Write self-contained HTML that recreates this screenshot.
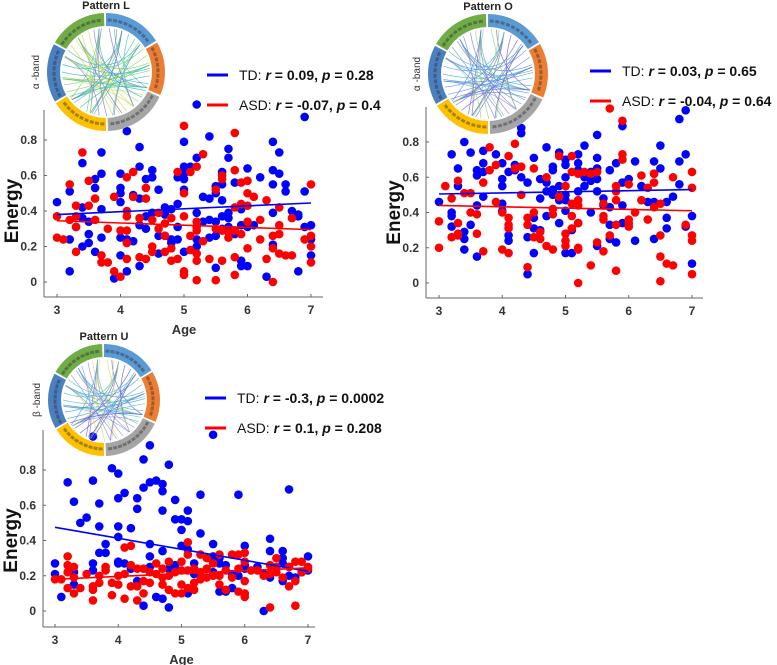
<!DOCTYPE html>
<html><head><meta charset="utf-8"><style>
body{margin:0;background:#fff}
svg{display:block;font-family:"Liberation Sans",sans-serif}
</style></head><body>
<svg id="fig" width="777" height="665" viewBox="0 0 777 665"></svg>
<script>
const ticksX=[3,4,5,6,7];
const ticksY=[0,0.2,0.4,0.6,0.8];
const tickLabelsY=["0","0.2","0.4","0.6","0.8"];
// Pattern L
const L_tdAge=[3.0,3.2,3.2,3.2,3.3,3.4,3.4,3.4,3.4,3.5,3.5,3.5,3.6,3.6,3.6,3.7,3.7,3.7,3.7,3.9,4.0,4.0,4.0,4.0,4.0,4.0,4.1,4.1,4.1,4.1,4.2,4.2,4.3,4.3,4.3,4.3,4.3,4.4,4.4,4.4,4.5,4.5,4.5,4.6,4.6,4.6,4.7,4.7,4.7,4.8,4.8,4.8,4.9,4.9,4.9,4.9,5.0,5.0,5.0,5.0,5.0,5.0,5.1,5.2,5.2,5.2,5.2,5.3,5.3,5.4,5.4,5.4,5.4,5.5,5.5,5.5,5.5,5.5,5.6,5.6,5.6,5.6,5.6,5.7,5.7,5.7,5.7,5.7,5.8,5.8,5.9,5.9,5.9,5.9,6.0,6.0,6.0,6.1,6.2,6.3,6.4,6.4,6.4,6.4,6.4,6.5,6.5,6.6,6.6,6.7,6.8,6.8,6.8,6.9,6.9,6.9,7.0,7.0,7.0,5.2];
const L_tdEnergy=[.45,.51,.06,.24,.31,.67,.42,.36,.20,.22,.34,.27,.58,.53,.17,.73,.61,.41,.25,.02,.61,.53,.50,.45,.25,.15,.85,.24,.22,.06,.49,.23,.76,.65,.47,.32,.09,.58,.37,.30,.63,.59,.39,.52,.16,.26,.42,.38,.26,.41,.24,.22,.59,.44,.31,.24,.79,.65,.61,.58,.52,.17,.65,.70,.39,.24,.20,.48,.34,.82,.47,.35,.25,.54,.50,.34,.26,.08,.62,.55,.46,.37,.30,.75,.70,.39,.36,.31,.56,.27,.41,.32,.12,.09,.64,.31,.09,.32,.59,.03,.79,.63,.55,.39,.21,.73,.61,.55,.51,.40,.38,.37,.06,.51,.31,.93,.32,.24,.15,1.0];
const L_asdAge=[3.0,3.0,3.1,3.2,3.2,3.3,3.3,3.3,3.3,3.4,3.5,3.5,3.6,3.6,3.7,3.7,3.8,3.8,3.9,3.9,4.0,4.0,4.1,4.1,4.1,4.1,4.1,4.1,4.2,4.2,4.3,4.3,4.4,4.4,4.4,4.5,4.5,4.5,4.6,4.6,4.7,4.7,4.7,4.8,4.8,4.8,4.9,4.9,5.0,5.0,5.0,5.0,5.0,5.1,5.1,5.1,5.2,5.2,5.2,5.2,5.2,5.2,5.2,5.3,5.3,5.4,5.5,5.5,5.5,5.6,5.6,5.6,5.6,5.7,5.7,5.8,5.8,5.8,5.8,5.8,5.8,5.9,5.9,5.9,6.0,6.0,6.0,6.0,6.0,6.1,6.2,6.2,6.3,6.3,6.4,6.4,6.4,6.5,6.5,6.5,6.5,6.6,6.7,6.7,6.9,7.0,7.0,7.0,7.0];
const L_asdEnergy=[.37,.25,.24,.55,.35,.43,.37,.31,.17,.73,.57,.43,.47,.35,.15,.11,.30,.11,.48,.06,.29,.03,.59,.40,.37,.29,.22,.13,.62,.48,.36,.14,.53,.47,.13,.35,.20,.17,.39,.30,.33,.26,.17,.36,.19,.12,.62,.13,.88,.50,.37,.06,.04,.62,.26,.18,.65,.34,.31,.29,.16,.12,.01,.72,.23,.13,.52,.30,.01,.60,.58,.29,.12,.25,.28,.84,.63,.42,.29,.14,.04,.56,.44,.27,.57,.50,.43,.34,.19,.48,.35,.24,.46,.13,.26,.19,.00,.42,.32,.27,.16,.15,.36,.15,.24,.55,.26,.20,.11];
const L_fitTD=[.38,.445], L_fitASD=[.345,.295];
// Pattern O
const O_tdAge=[3.0,3.2,3.2,3.2,3.2,3.3,3.3,3.4,3.4,3.4,3.4,3.5,3.5,3.6,3.6,3.6,3.6,3.7,3.7,3.7,3.7,3.9,4.0,4.0,4.0,4.0,4.0,4.1,4.1,4.1,4.2,4.2,4.3,4.3,4.3,4.4,4.4,4.4,4.5,4.5,4.5,4.5,4.6,4.6,4.6,4.7,4.7,4.7,4.7,4.8,4.8,4.8,4.8,4.9,4.9,4.9,4.9,5.0,5.0,5.0,5.0,5.0,5.0,5.0,5.1,5.1,5.2,5.2,5.2,5.2,5.2,5.3,5.3,5.3,5.4,5.4,5.4,5.5,5.5,5.5,5.5,5.5,5.5,5.6,5.6,5.7,5.7,5.7,5.7,5.8,5.8,5.9,5.9,5.9,5.9,6.0,6.1,6.1,6.2,6.3,6.4,6.4,6.4,6.4,6.5,6.5,6.6,6.6,6.6,6.7,6.8,6.8,6.8,6.9,6.9,6.9,7.0,7.0];
const O_tdEnergy=[.46,.73,.40,.38,.32,.65,.55,.80,.29,.25,.19,.74,.33,.64,.61,.44,.15,.75,.68,.63,.49,.73,.68,.59,.55,.45,.41,.63,.27,.24,.67,.64,.88,.85,.60,.57,.26,.05,.71,.37,.31,.17,.59,.48,.30,.77,.57,.52,.38,.66,.64,.53,.50,.74,.55,.47,.34,.70,.67,.60,.50,.47,.41,.17,.30,.17,.73,.68,.64,.52,.34,.78,.60,.55,.63,.58,.40,.84,.71,.65,.59,.52,.21,.48,.44,.64,.43,.33,.25,.68,.23,.89,.57,.44,.34,.59,.69,.24,.55,.46,.69,.62,.46,.25,.78,.65,.46,.37,.31,.49,.93,.69,.56,.98,.73,.32,.38,.11];
const O_asdAge=[3.0,3.0,3.1,3.2,3.2,3.3,3.3,3.3,3.3,3.4,3.5,3.5,3.6,3.6,3.7,3.7,3.8,3.8,3.9,3.9,4.0,4.0,4.1,4.1,4.1,4.1,4.1,4.2,4.2,4.3,4.3,4.4,4.4,4.4,4.5,4.5,4.5,4.6,4.6,4.7,4.7,4.8,4.8,4.8,4.9,4.9,5.0,5.0,5.0,5.0,5.1,5.1,5.1,5.1,5.1,5.2,5.2,5.2,5.2,5.2,5.2,5.2,5.3,5.4,5.4,5.5,5.5,5.6,5.6,5.6,5.6,5.7,5.7,5.8,5.8,5.8,5.8,5.8,5.9,5.9,5.9,6.0,6.0,6.0,6.0,6.1,6.2,6.2,6.3,6.3,6.4,6.4,6.4,6.5,6.5,6.5,6.5,6.6,6.7,6.7,6.9,7.0,7.0,7.0,7.0,7.0];
const O_asdEnergy=[.35,.20,.55,.48,.26,.58,.34,.28,.27,.51,.51,.40,.39,.28,.57,.18,.77,.64,.67,.46,.40,.19,.72,.37,.33,.31,.17,.79,.65,.66,.50,.37,.33,.09,.65,.40,.26,.29,.25,.60,.21,.42,.39,.19,.72,.49,.55,.28,.24,.21,.72,.63,.45,.38,.31,.62,.47,.44,.34,.20,.19,.00,.63,.62,.10,.63,.23,.45,.38,.36,.18,.99,.27,.55,.52,.47,.33,.07,.92,.73,.70,.56,.36,.34,.32,.40,.61,.47,.54,.36,.62,.57,.43,.45,.27,.15,.01,.11,.60,.10,.33,.63,.54,.27,.24,.05];
const O_fitTD=[.505,.53], O_fitASD=[.44,.41];
// Pattern U
const U_tdAge=[3.0,3.0,3.1,3.2,3.3,3.3,3.3,3.4,3.5,3.6,3.6,3.6,3.6,3.7,3.7,3.7,3.8,3.8,3.9,4.0,4.0,4.0,4.0,4.0,4.0,4.1,4.1,4.2,4.2,4.3,4.3,4.3,4.4,4.4,4.4,4.5,4.5,4.5,4.5,4.5,4.6,4.6,4.7,4.7,4.7,4.7,4.7,4.8,4.8,4.8,4.9,4.9,4.9,5.0,5.0,5.0,5.1,5.1,5.1,5.1,5.2,5.2,5.3,5.3,5.5,5.5,5.5,5.5,5.6,5.6,5.6,5.7,5.7,5.8,5.8,5.9,5.9,6.0,6.0,6.0,6.2,6.3,6.3,6.4,6.4,6.4,6.6,6.6,6.6,6.6,6.7,6.7,6.7,6.8,6.9,7.0,7.0,5.5];
const U_tdEnergy=[.27,.21,.08,.73,.62,.22,.15,.50,.53,.74,.27,.23,.99,.61,.48,.33,.38,.33,.81,.78,.64,.48,.42,.28,.27,.67,.27,.47,.24,.64,.58,.17,.86,.70,.03,.94,.73,.38,.31,.25,.74,.08,.72,.68,.57,.34,.07,.83,.24,.02,.63,.52,.26,.52,.46,.37,.57,.51,.35,.10,.27,.21,.66,.44,.38,.31,.28,.22,.30,.27,.11,.26,.11,.21,.13,.66,.20,.37,.26,.24,.25,.21,.00,.41,.34,.19,.34,.30,.27,.17,.69,.25,.20,.19,.22,.31,.23,1.0];
const U_asdAge=[3.0,3.1,3.2,3.2,3.2,3.2,3.3,3.3,3.3,3.4,3.5,3.6,3.6,3.6,3.7,3.7,3.8,3.8,3.9,3.9,4.0,4.0,4.1,4.1,4.1,4.2,4.2,4.2,4.3,4.3,4.3,4.4,4.4,4.4,4.5,4.5,4.6,4.6,4.7,4.7,4.7,4.8,4.8,4.8,4.9,4.9,5.0,5.0,5.0,5.0,5.1,5.1,5.1,5.1,5.2,5.2,5.2,5.3,5.3,5.3,5.4,5.4,5.4,5.5,5.5,5.6,5.6,5.6,5.7,5.7,5.8,5.8,5.9,5.9,5.9,6.0,6.0,6.0,6.0,6.0,6.1,6.2,6.3,6.4,6.4,6.4,6.5,6.5,6.5,6.6,6.7,6.7,6.8,6.8,6.8,6.9,6.9,7.0,7.0];
const U_asdEnergy=[.18,.18,.31,.26,.22,.13,.25,.19,.10,.13,.21,.14,.12,.06,.20,.16,.25,.23,.16,.09,.20,.15,.36,.21,.07,.37,.26,.14,.24,.14,.06,.24,.17,.10,.22,.16,.27,.21,.24,.19,.15,.28,.20,.12,.22,.10,.28,.23,.15,.10,.39,.32,.23,.13,.24,.16,.12,.32,.22,.18,.30,.24,.19,.27,.20,.32,.20,.15,.23,.12,.32,.19,.32,.24,.11,.33,.28,.17,.10,.08,.23,.23,.20,.26,.21,.02,.30,.25,.22,.19,.25,.14,.28,.17,.03,.28,.22,.25,.24];
const U_fitTD=[.475,.225], U_fitASD=[.18,.245];

const NS="http://www.w3.org/2000/svg";
const svg=document.getElementById('fig');
function mk(tag,attrs,parent){const e=document.createElementNS(NS,tag);for(const k in attrs)e.setAttribute(k,attrs[k]);(parent||svg).appendChild(e);return e;}

function panel(id,geo,tdA,tdE,asA,asE,fitTD,fitASD,legend,title,band,showAge){
  const g=mk('g',{});
  
  
  const sx=a=>geo.x3+(a-3)*(geo.x7-geo.x3)/4;
  const sy=v=>geo.y0-v*(geo.y0-geo.y8)/0.8;
  // axes
  const ax=mk('line',{x1:geo.ax,y1:geo.top,x2:geo.ax,y2:geo.bot,stroke:'#666','stroke-width':1},g);
  
  const bx=mk('line',{x1:geo.ax,y1:geo.bot,x2:geo.right,y2:geo.bot,stroke:'#666','stroke-width':1},g);
  
  ticksX.forEach(t=>{
    mk('line',{x1:sx(t),y1:geo.bot,x2:sx(t),y2:geo.bot-3,stroke:'#666'},g);
    const tx=mk('text',{x:sx(t),y:geo.bot+17,'text-anchor':'middle','font-size':12,'font-weight':'bold',fill:'#333'},g);
    tx.textContent=t;
    
  });
  ticksY.forEach((t,i)=>{
    mk('line',{x1:geo.ax,y1:sy(t),x2:geo.ax+3,y2:sy(t),stroke:'#666'},g);
    const ty=mk('text',{x:geo.ax-7,y:sy(t)+4,'text-anchor':'end','font-size':12,'font-weight':'bold',fill:'#333'},g);
    ty.textContent=tickLabelsY[i];
    
  });
  const yl=mk('text',{x:0,y:0,transform:`translate(${geo.ax-26},${sy(0.4)}) rotate(-90)`,'text-anchor':'middle','font-size':19,'font-weight':'bold',fill:'#111'},g);
  yl.textContent='Energy';
  if(showAge){const xl=mk('text',{x:sx(5),y:geo.bot+37,'text-anchor':'middle','font-size':13,'font-weight':'bold',fill:'#333'},g);
    xl.textContent='Age';}
  tdA.forEach((a,i)=>{const c=mk('circle',{cx:sx(a),cy:sy(tdE[i]),r:4.3,fill:'#0000ff'},g);
    });
  asA.forEach((a,i)=>{const c=mk('circle',{cx:sx(a),cy:sy(asE[i]),r:4.3,fill:'#ff0000'},g);
    });
  const f1=mk('line',{x1:sx(3),y1:sy(fitTD[0]),x2:sx(7),y2:sy(fitTD[1]),stroke:'#0000ff','stroke-width':1.6},g);
  
  const f2=mk('line',{x1:sx(3),y1:sy(fitASD[0]),x2:sx(7),y2:sy(fitASD[1]),stroke:'#ff0000','stroke-width':1.6},g);
  
  // legend
  [[legend.td,'#0000ff','TD: ','td'],[legend.asd,'#ff0000','ASD: ','asd']].forEach((L,k)=>{
    const y=geo.ly+k*30;
    const ln=mk('line',{x1:geo.lx,y1:y,x2:geo.lx+21,y2:y,stroke:L[1],'stroke-width':3},g);
    
    const t=mk('text',{x:geo.lx+32,y:y+5,'font-size':14,fill:'#111'},g);
    
    t.innerHTML=`${L[2]}<tspan font-weight="bold" font-style="italic">r</tspan><tspan font-weight="bold"> = ${L[0][0]}, </tspan><tspan font-weight="bold" font-style="italic">p</tspan><tspan font-weight="bold"> = ${L[0][1]}</tspan>`;
  });
  chord(g,geo.cx,geo.cy,geo.cr,title,band,id);
}

function polar(cx,cy,r,deg){const a=(deg-90)*Math.PI/180;return [cx+r*Math.cos(a),cy+r*Math.sin(a)];}
function arcPath(cx,cy,r1,r2,a0,a1){
  const p1=polar(cx,cy,r2,a0),p2=polar(cx,cy,r2,a1),p3=polar(cx,cy,r1,a1),p4=polar(cx,cy,r1,a0);
  const lg=(a1-a0)>180?1:0;
  return `M${p1} A${r2},${r2} 0 ${lg} 1 ${p2} L${p3} A${r1},${r1} 0 ${lg} 0 ${p4}Z`;
}
function chord(g,cx,cy,r,title,band,id){
  const cg=mk('g',{},g);
  
  const segs=[[0,58,'#5b9bd5'],[60,113,'#ed7d31'],[115,178,'#a5a5a5'],[180,238,'#ffc000'],[240,298,'#4a7fc1'],[300,358,'#70ad47']];
  segs.forEach(s=>{mk('path',{d:arcPath(cx,cy,r-13,r,s[0],s[1]),fill:s[2]},cg);
    for(let a=s[0]+4;a<s[1]-2;a+=6){const p=polar(cx,cy,r-7,a);mk('rect',{x:p[0]-2,y:p[1]-1.5,width:4,height:3,fill:'#333',opacity:0.45,transform:`rotate(${a} ${p[0]} ${p[1]})`},cg);}
  });
  const cols={L:['#3fbfb0','#7ccf5a','#2ab0c0','#c8d84a','#7a6fd0'],O:['#6a5acd','#4f8be0','#3aa7e0','#7a7ae0','#8fd16a'],U:['#5a5ae0','#3a9ae0','#4fc0c0','#8a8ae8','#d8d860']}[id];
  const ri=r-15;
  for(let i=0;i<46;i++){
    const a0=(i*37+11)%360, a1=(a0+100+(i*53)%150)%360;
    const p0=polar(cx,cy,ri,a0),p1=polar(cx,cy,ri,a1);
    const q=polar(cx,cy,ri*0.25,(a0+a1)/2);
    mk('path',{d:`M${p0} Q${q} ${p1}`,fill:'none',stroke:cols[i%5],'stroke-width':0.7,opacity:0.8},cg);
  }
  const t=mk('text',{x:cx,y:cy-r-4,'text-anchor':'middle','font-size':11,'font-weight':'bold',fill:'#222'},g);
  t.textContent=title;
  const b=mk('text',{x:0,y:0,transform:`translate(${cx-r-8},${cy}) rotate(-90)`,'text-anchor':'middle','font-size':10,fill:'#333'},g);
  b.textContent=band;
}

panel('L',{x3:57,x7:311,y0:282,y8:140,ax:44,top:110,bot:297,right:323,lx:207,ly:75,cx:106,cy:72,cr:59},
  L_tdAge,L_tdEnergy,L_asdAge,L_asdEnergy,L_fitTD,L_fitASD,{td:['0.09','0.28'],asd:['-0.07','0.4']},'Pattern L','α -band',true);
panel('O',{x3:439,x7:692,y0:283,y8:142,ax:426,top:107,bot:298,right:703,lx:590,ly:71,cx:488,cy:74,cr:60},
  O_tdAge,O_tdEnergy,O_asdAge,O_asdEnergy,O_fitTD,O_fitASD,{td:['0.03','0.65'],asd:['-0.04','0.64']},'Pattern O','α -band',false);
panel('U',{x3:55,x7:308,y0:611,y8:470,ax:43,top:430,bot:627,right:315,lx:205,ly:398,cx:104,cy:400,cr:56},
  U_tdAge,U_tdEnergy,U_asdAge,U_asdEnergy,U_fitTD,U_fitASD,{td:['-0.3','0.0002'],asd:['0.1','0.208']},'Pattern U','β -band',true);
</script>
</body></html>
